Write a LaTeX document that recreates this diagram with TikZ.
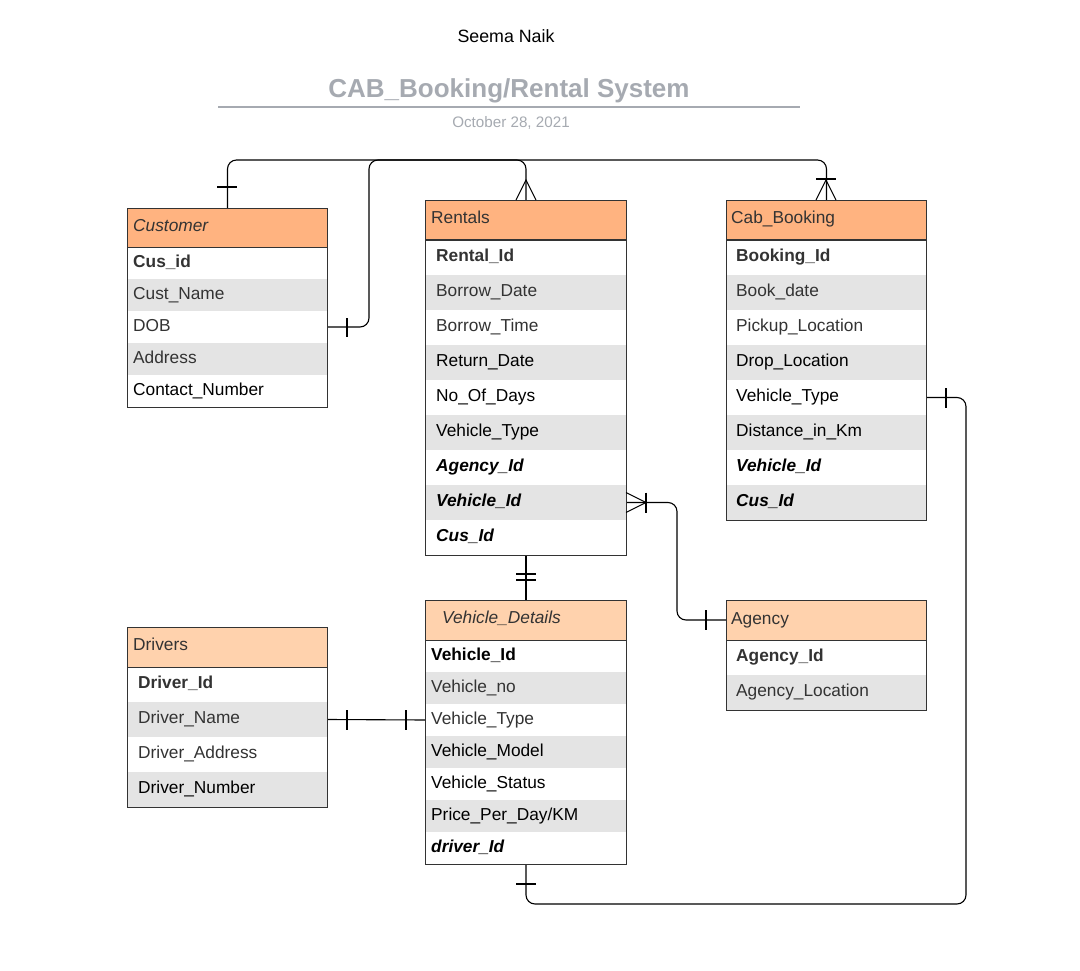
\documentclass[tikz,border=0pt]{standalone}
\usepackage{fontspec}
\setmainfont{Liberation Sans}
\definecolor{hdrA}{HTML}{FFB380}
\definecolor{hdrB}{HTML}{FFD2AD}
\definecolor{stripe}{HTML}{E4E4E4}
\definecolor{outc}{HTML}{333333}
\definecolor{txt}{HTML}{333333}
\definecolor{ttl}{HTML}{A6AAB1}
\newcommand\fsz{\fontsize{17.3}{20}\selectfont}
\tikzset{
  box/.style={draw=outc, line width=1pt, inner sep=0pt, anchor=north west},
  outl/.style={draw=outc, line width=1pt},
  ftxt/.style={anchor=west, inner sep=0pt, text height=12.5pt, text depth=4pt, text=txt},
  blk/.style={text=black},
  conn/.style={draw=black, line width=1.1pt, rounded corners=9pt},
  mk/.style={draw=black, line width=1.1pt},
}
\begin{document}
\begin{tikzpicture}[x=1pt,y=-1pt]
\useasboundingbox (0,0) rectangle (1080,971);
\fill[white] (0,0) rectangle (1080,971);
% titles
\node[inner sep=0pt, font=\fontsize{17.8}{20}\selectfont] (author) at (506,36) {Seema Naik};
\node[inner sep=0pt, text=ttl, font=\fontsize{26}{30}\selectfont\bfseries] (title) at (509,91) {CAB\_Booking/Rental System};
\draw[ttl, line width=2pt] (218,107) -- (800,107);
\node[inner sep=0pt, text=ttl, font=\fontsize{15.2}{18}\selectfont] (date) at (511,123) {October 28, 2021};

% ---------- Customer
\fill[hdrA] (127,208) rectangle (327,247);
\fill[stripe] (127,279) rectangle (327,311);
\fill[stripe] (127,343) rectangle (327,375);
\node[box, minimum width=200pt, minimum height=199pt] (cust) at (127,208) {};
\draw[outl] (127,247) -- (327,247);
\node[ftxt, font=\fsz\itshape] (custH) at (133,227.5) {Customer};
\node[ftxt, font=\fsz\bfseries] (c1) at (133,263) {Cus\_id};
\node[ftxt, font=\fsz] (c2) at (133,295) {Cust\_Name};
\node[ftxt, font=\fsz] (c3) at (133,327) {DOB};
\node[ftxt, font=\fsz] (c4) at (133,359) {Address};
\node[ftxt, blk, font=\fsz] (c5) at (133,391) {Contact\_Number};

% ---------- Rentals
\fill[hdrA] (425,200) rectangle (626,240);
\fill[stripe] (425,275) rectangle (626,310);
\fill[stripe] (425,345) rectangle (626,380);
\fill[stripe] (425,415) rectangle (626,450);
\fill[stripe] (425,485) rectangle (626,520);
\node[box, minimum width=201pt, minimum height=355pt] (rent) at (425,200) {};
\draw[outl] (425,240) -- (626,240);
\node[ftxt, font=\fsz] (rentH) at (431,219) {Rentals};
\node[ftxt, font=\fsz\bfseries] (r1) at (436,257.5) {Rental\_Id};
\node[ftxt, font=\fsz] (r2) at (436,292.5) {Borrow\_Date};
\node[ftxt, font=\fsz] (r3) at (436,327.5) {Borrow\_Time};
\node[ftxt, blk, font=\fsz] (r4) at (436,362.5) {Return\_Date};
\node[ftxt, blk, font=\fsz] (r5) at (436,397.5) {No\_Of\_Days};
\node[ftxt, blk, font=\fsz] (r6) at (436,432.5) {Vehicle\_Type};
\node[ftxt, blk, font=\fsz\bfseries\itshape] (r7) at (436,467.5) {Agency\_Id};
\node[ftxt, blk, font=\fsz\bfseries\itshape] (r8) at (436,502.5) {Vehicle\_Id};
\node[ftxt, blk, font=\fsz\bfseries\itshape] (r9) at (436,537.5) {Cus\_Id};

% ---------- Cab_Booking
\fill[hdrA] (726,200) rectangle (926,240);
\fill[stripe] (726,275) rectangle (926,310);
\fill[stripe] (726,345) rectangle (926,380);
\fill[stripe] (726,415) rectangle (926,450);
\fill[stripe] (726,485) rectangle (926,520);
\node[box, minimum width=200pt, minimum height=320pt] (cab) at (726,200) {};
\draw[outl] (726,240) -- (926,240);
\node[ftxt, font=\fsz] (cabH) at (731,219) {Cab\_Booking};
\node[ftxt, font=\fsz\bfseries] (b1) at (736,257.5) {Booking\_Id};
\node[ftxt, font=\fsz] (b2) at (736,292.5) {Book\_date};
\node[ftxt, font=\fsz] (b3) at (736,327.5) {Pickup\_Location};
\node[ftxt, blk, font=\fsz] (b4) at (736,362.5) {Drop\_Location};
\node[ftxt, blk, font=\fsz] (b5) at (736,397.5) {Vehicle\_Type};
\node[ftxt, blk, font=\fsz] (b6) at (736,432.5) {Distance\_in\_Km};
\node[ftxt, blk, font=\fsz\bfseries\itshape] (b7) at (736,467.5) {Vehicle\_Id};
\node[ftxt, blk, font=\fsz\bfseries\itshape] (b8) at (736,502.5) {Cus\_Id};

% ---------- Vehicle_Details
\fill[hdrB] (425,600) rectangle (626,640);
\fill[stripe] (425,672) rectangle (626,704);
\fill[stripe] (425,736) rectangle (626,768);
\fill[stripe] (425,800) rectangle (626,832);
\node[box, minimum width=201pt, minimum height=264pt] (vd) at (425,600) {};
\draw[outl] (425,640) -- (626,640);
\node[ftxt, font=\fsz\itshape] (vdH) at (442,619) {Vehicle\_Details};
\node[ftxt, blk, font=\fsz\bfseries] (v1) at (431,656) {Vehicle\_Id};
\node[ftxt, font=\fsz] (v2) at (431,688) {Vehicle\_no};
\node[ftxt, font=\fsz] (v3) at (431,720) {Vehicle\_Type};
\node[ftxt, blk, font=\fsz] (v4) at (431,752) {Vehicle\_Model};
\node[ftxt, blk, font=\fsz] (v5) at (431,784) {Vehicle\_Status};
\node[ftxt, blk, font=\fsz] (v6) at (431,816) {Price\_Per\_Day/KM};
\node[ftxt, blk, font=\fsz\bfseries\itshape] (v7) at (431,848) {driver\_Id};

% ---------- Drivers
\fill[hdrB] (127,627) rectangle (327,667);
\fill[stripe] (127,702) rectangle (327,737);
\fill[stripe] (127,772) rectangle (327,807);
\node[box, minimum width=200pt, minimum height=180pt] (drv) at (127,627) {};
\draw[outl] (127,667) -- (327,667);
\node[ftxt, font=\fsz] (drvH) at (133,646) {Drivers};
\node[ftxt, font=\fsz\bfseries] (d1) at (138,684.5) {Driver\_Id};
\node[ftxt, font=\fsz] (d2) at (138,719.5) {Driver\_Name};
\node[ftxt, font=\fsz] (d3) at (138,754.5) {Driver\_Address};
\node[ftxt, blk, font=\fsz] (d4) at (138,789.5) {Driver\_Number};

% ---------- Agency
\fill[hdrB] (726,600) rectangle (926,640);
\fill[stripe] (726,675) rectangle (926,710);
\node[box, minimum width=200pt, minimum height=110pt] (ag) at (726,600) {};
\draw[outl] (726,640) -- (926,640);
\node[ftxt, font=\fsz] (agH) at (731,620) {Agency};
\node[ftxt, font=\fsz\bfseries] (a1) at (736,657.5) {Agency\_Id};
\node[ftxt, font=\fsz] (a2) at (736,692.5) {Agency\_Location};

% ---------- connectors
\coordinate (topline) at (0,160);
% Customer -> Rentals
\draw[conn] (cust.north) |- (rent.north |- topline) -- (rent.north);
\draw[mk] (217,187) -- (237,187);
\draw[mk] (516,200) -- (526,180) -- (536,200);
% Customer DOB -> Cab_Booking
\draw[conn] (cust.east |- c3) -- ++(41,0) |- (cab.north |- topline) -- (cab.north);
\draw[mk] (347,318) -- (347,337);
\draw[mk] (816,200) -- (826,180) -- (836,200);
\draw[mk] (816,179) -- (836,179);
% Rentals Vehicle_Id -> Agency
\draw[conn] (rent.east |- r8) -- ++(50,0) |- (ag.west |- agH);
\draw[mk] (626,492.5) -- (646,502.5) -- (626,512.5);
\draw[mk] (646,492.5) -- (646,512.5);
\draw[mk] (706,610) -- (706,630);
% Rentals -> Vehicle_Details
\draw[conn] (rent.south) -- (vd.north);
\draw[mk] (516,574) -- (536,574);
\draw[mk] (516,580) -- (536,580);
% Drivers -> Vehicle_Details
\draw[conn] (drv.east |- d2) -- (vd.west |- v3);
\draw[mk] (347,710) -- (347,730);
\draw[mk] (406,710) -- (406,730);
% Vehicle_Details -> Cab_Booking
\coordinate (botright) at (966,904);
\draw[conn] (vd.south) |- (botright) |- (cab.east |- b5);
\draw[mk] (516,884) -- (536,884);
\draw[mk] (946,388) -- (946,408);
\end{tikzpicture}
\end{document}
